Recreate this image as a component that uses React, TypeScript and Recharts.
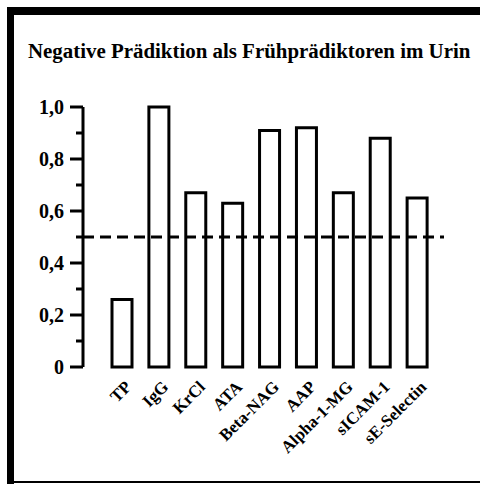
import React from 'react';
import { BarChart, Bar, XAxis, YAxis, ReferenceLine } from 'recharts';

const title = 'Negative Prädiktion als Frühprädiktoren im Urin';
const categories = ['TP', 'IgG', 'KrCl', 'ATA', 'Beta-NAG', 'AAP', 'Alpha-1-MG', 'sICAM-1', 'sE-Selectin'];
const values = [0.26, 1.0, 0.67, 0.63, 0.91, 0.92, 0.67, 0.88, 0.65];
const yTickValues = [0, 0.1, 0.2, 0.3, 0.4, 0.5, 0.6, 0.7, 0.8, 0.9, 1.0];
const yTickLabels = ['0', '', '0,2', '', '0,4', '', '0,6', '', '0,8', '', '1,0'];
const threshold = 0.5;

const data = categories.map((name, i) => ({ name, value: values[i] }));

const FONT = "'Liberation Serif', 'Times New Roman', serif";
const Y_TICK_SIZE = 13;
const Y_TICK_MARGIN = 6;

const YTick = (props: any) => {
  const { x, y, payload } = props;
  const idx = yTickValues.indexOf(payload.value);
  const label = idx >= 0 ? yTickLabels[idx] : '';
  const ax = x + Y_TICK_SIZE + Y_TICK_MARGIN;
  const len = label ? Y_TICK_SIZE : 7;
  return (
    <g>
      <line x1={ax - len} x2={ax} y1={y} y2={y} stroke="#000" strokeWidth={3} />
      {label ? (
        <text x={x} y={y} dy="0.35em" textAnchor="end" fontFamily={FONT} fontWeight="bold" fontSize={20} fill="#000">
          {label}
        </text>
      ) : null}
    </g>
  );
};

const XTick = (props: any) => {
  const { x, y, payload } = props;
  return (
    <g opacity={0.999}>
      <text
        transform={`translate(${x + 10},${y + 13}) rotate(-45)`}
        textAnchor="end"
        fontFamily={FONT}
        fontWeight="bold"
        fontSize={17}
        fill="#000"
      >
        {payload.value}
      </text>
    </g>
  );
};

export default function App() {
  return (
    <div style={{ position: 'absolute', left: 0, top: 0, width: 480, height: 484, background: '#fff', overflow: 'hidden' }}>
      <div style={{ position: 'absolute', left: 7, top: 7, width: 7, height: 477, background: '#000' }} />
      <div style={{ position: 'absolute', left: 7, top: 7, width: 473, height: 8, background: '#000' }} />
      <div style={{ position: 'absolute', left: 7, top: 481, width: 473, height: 2, background: '#000' }} />
      <svg style={{ position: 'absolute', left: 0, top: 0 }} width={480} height={80}>
        <text x={28} y={58} fontFamily={FONT} fontWeight="bold" fontSize={20.9} fill="#000">
          {title}
        </text>
      </svg>
      <div style={{ position: 'absolute', left: 0, top: 0 }}>
        <BarChart width={480} height={484} data={data} margin={{ top: 107, right: 36, left: 0, bottom: 0 }}>
          <XAxis
            dataKey="name"
            axisLine={false}
            tickLine={false}
            interval={0}
            padding={{ left: 21, right: 8 }}
            height={117}
            tick={<XTick />}
          />
          <YAxis
            domain={[0, 1]}
            ticks={yTickValues}
            width={83}
            axisLine={{ stroke: '#000', strokeWidth: 3 }}
            tickLine={false}
            tickSize={Y_TICK_SIZE}
            tickMargin={Y_TICK_MARGIN}
            tick={<YTick />}
            interval={0}
          />
          <Bar dataKey="value" barSize={20} fill="#fff" stroke="#000" strokeWidth={3} isAnimationActive={false} />
          <ReferenceLine y={threshold} stroke="#000" strokeWidth={3} strokeDasharray="11 6" />
        </BarChart>
      </div>
    </div>
  );
}
